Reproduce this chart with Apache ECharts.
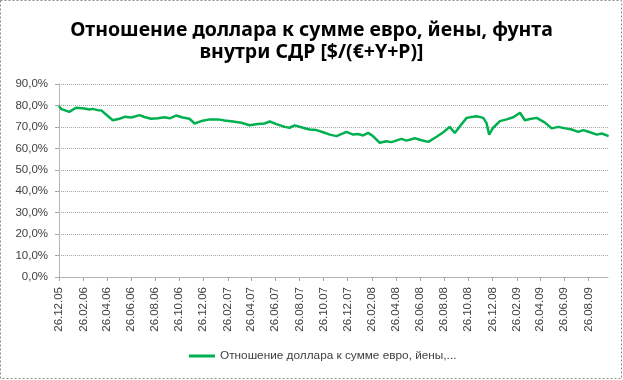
<!DOCTYPE html>
<html>
<head>
<meta charset="utf-8">
<script src="https://cdn.jsdelivr.net/npm/echarts@6/dist/echarts.min.js"></script>
<style>html,body{margin:0;padding:0;background:#fff}#c{width:623px;height:380px}</style>
</head>
<body>
<div id="c"></div>
<script>
// Readings from the reference picture (date DD.MM.YY, value in %)
var startDate = '26.12.05';
var endDate = '17.10.09';
var dates = [
 '26.12.05','31.12.05','21.01.06','07.02.06','28.02.06','13.03.06','21.03.06','03.04.06','12.04.06','24.04.06',
 '11.05.06','28.05.06','10.06.06','27.06.06','18.07.06','30.07.06','16.08.06','02.09.06','19.09.06','02.10.06',
 '18.10.06','04.11.06','21.11.06','04.12.06','21.12.06','11.01.07','01.02.07','18.02.07','11.03.07','01.04.07',
 '22.04.07','13.05.07','30.05.07','12.06.07','29.06.07','20.07.07','01.08.07','14.08.07','04.09.07','21.09.07',
 '08.10.07','25.10.07','11.11.07','28.11.07','23.12.07','09.01.08','21.01.08','03.02.08','16.02.08','28.02.08',
 '16.03.08','02.04.08','15.04.08','10.05.08','23.05.08','13.06.08','30.06.08','17.07.08','07.08.08','24.08.08',
 '09.09.08','22.09.08','05.10.08','22.10.08','07.11.08','16.11.08','03.12.08','11.12.08','18.12.08','28.12.08',
 '14.01.09','31.01.09','17.02.09','06.03.09','18.03.09','31.03.09','17.04.09','08.05.09','25.05.09','11.06.09',
 '28.06.09','15.07.09','31.07.09','13.08.09','30.08.09','16.09.09','29.09.09','16.10.09'
];
var values = [
 79.7,78.4,77.0,78.9,78.6,78.1,78.4,77.8,77.7,75.8,
 73.1,73.8,74.7,74.4,75.5,74.6,73.8,74.0,74.5,74.0,
 75.3,74.4,73.8,71.6,72.7,73.5,73.5,73.0,72.5,71.9,
 70.8,71.3,71.6,72.5,71.3,70.0,69.6,70.7,69.6,68.8,
 68.5,67.5,66.4,65.7,67.7,66.4,66.7,66.0,67.2,65.7,
 62.6,63.3,62.9,64.4,63.6,64.7,63.8,63.0,65.4,67.5,
 70.0,67.2,70.3,74.2,74.7,75.0,74.2,71.9,66.4,69.6,
 72.7,73.5,74.5,76.6,73.1,73.7,74.2,72.0,69.3,70.0,
 69.3,68.8,67.7,68.5,67.5,66.4,66.9,65.7
];
var seriesName = 'Отношение доллара к сумме евро, йены, фунта внутри СДР';
var titleLines = ['Отношение доллара к сумме евро, йены, фунта', 'внутри СДР [$/(€+Y+P)]'];
var yTicks = [0,10,20,30,40,50,60,70,80,90];

function parseD(s){var p=s.split('.');return Date.UTC(2000+ +p[2], +p[1]-1, +p[0]);}
function fmt(t){var d=new Date(t);function z(n){return (n<10?'0':'')+n;}return z(d.getUTCDate())+'.'+z(d.getUTCMonth()+1)+'.'+z(d.getUTCFullYear()%100);}
var categories=[];
for(var t=parseD(startDate);t<=parseD(endDate);t+=86400000){categories.push(fmt(t));}
var data = dates.map(function(d,i){return [d, values[i]];});
function isTick(idx, val){var p=val.split('.');return p[0]==='26' && (+p[1])%2===0;}

var chart = echarts.init(document.getElementById('c'), null, {renderer:'canvas'});
var gray='#a6a6a6', txt='#404040';
chart.setOption({
  animation:false,
  title:{text:titleLines.join('\n'),left:'center',top:14,
    textStyle:{fontFamily:'Noto Sans',fontWeight:'bold',fontSize:19.5,lineHeight:22,color:'#000'}},
  legend:{bottom:13,left:184,itemWidth:26,itemHeight:3,icon:'rect',
    formatter:function(){return 'Отношение доллара к сумме евро, йены,...';},
    textStyle:{fontFamily:'Liberation Sans',fontSize:11.8,color:txt},itemGap:4},
  grid:{left:59,right:14,top:84,bottom:103,containLabel:false},
  xAxis:{type:'category',data:categories,boundaryGap:false,
    axisLine:{lineStyle:{color:gray,type:'dotted'}},
    axisTick:{show:true,interval:isTick,length:4,lineStyle:{color:gray}},
    axisLabel:{interval:isTick,rotate:90,margin:10,fontFamily:'Liberation Sans',fontSize:11.5,color:txt},
    splitLine:{show:false}},
  yAxis:{type:'value',min:yTicks[0],max:yTicks[yTicks.length-1],interval:10,
    axisLine:{show:true,lineStyle:{color:gray,type:'dotted'}},
    axisTick:{show:true,length:4,lineStyle:{color:gray}},
    axisLabel:{margin:11,fontFamily:'Liberation Sans',fontSize:11.5,color:txt,
      formatter:function(v){return v.toFixed(1).replace('.',',')+'%';}},
    splitLine:{lineStyle:{color:gray,type:'dotted'}}},
  series:[{name:seriesName,type:'line',data:data,showSymbol:false,connectNulls:true,
    lineStyle:{color:'#00B050',width:2.5},itemStyle:{color:'#00B050'}}],
  graphic:[{type:'rect',shape:{x:0.5,y:0.5,width:621,height:378},
    style:{fill:null,stroke:'#8c8c8c',lineWidth:1,lineDash:[2,2]},silent:true}]
});
</script>
</body>
</html>
